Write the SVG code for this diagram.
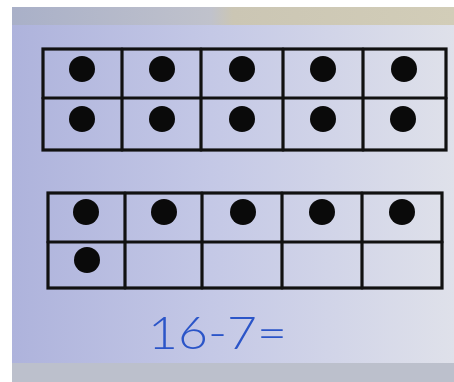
<svg xmlns="http://www.w3.org/2000/svg" width="454" height="382" viewBox="0 0 454 382">
<defs>
<linearGradient id="paper" x1="0" y1="0" x2="1" y2="0">
<stop offset="0" stop-color="#aeb3dc"/>
<stop offset="0.45" stop-color="#c4c8e6"/>
<stop offset="1" stop-color="#dfe1ea"/>
</linearGradient>
<linearGradient id="band" x1="0" y1="0" x2="1" y2="0">
<stop offset="0" stop-color="#a9b0c8"/>
<stop offset="0.45" stop-color="#c0c2cc"/>
<stop offset="0.5" stop-color="#cbc6b4"/>
<stop offset="1" stop-color="#d2cdb8"/>
</linearGradient>
<style>
.grid{fill:none;stroke:#111;stroke-width:3.2;stroke-linecap:round}
.dot{fill:#0a0a0a}
.eq{font-family:Lato,"Open Sans",sans-serif;font-size:46px;fill:#2b55c8;font-weight:300}
</style>
</defs>
<rect x="0" y="0" width="454" height="382" fill="#ffffff"/>
<rect x="12" y="7" width="442" height="375" fill="url(#band)"/>
<rect x="12" y="25" width="442" height="338" fill="url(#paper)"/>
<rect x="12" y="363" width="442" height="19" fill="#bcc0cc"/>
<g id="frame-top">
<rect class="grid" x="43" y="49" width="403" height="101"/>
<line class="grid" x1="43" y1="98" x2="446" y2="98"/>
<line class="grid" x1="122" y1="49" x2="122" y2="150"/>
<line class="grid" x1="201" y1="49" x2="201" y2="150"/>
<line class="grid" x1="283" y1="49" x2="283" y2="150"/>
<line class="grid" x1="363" y1="49" x2="363" y2="150"/>
<circle class="dot" cx="82" cy="69" r="13"/>
<circle class="dot" cx="162" cy="69" r="13"/>
<circle class="dot" cx="242" cy="69" r="13"/>
<circle class="dot" cx="323" cy="69" r="13"/>
<circle class="dot" cx="404" cy="69" r="13"/>
<circle class="dot" cx="82" cy="119" r="13"/>
<circle class="dot" cx="162" cy="119" r="13"/>
<circle class="dot" cx="242" cy="119" r="13"/>
<circle class="dot" cx="323" cy="119" r="13"/>
<circle class="dot" cx="403" cy="119" r="13"/>
</g>
<g id="frame-bottom">
<rect class="grid" x="48" y="193" width="394" height="95"/>
<line class="grid" x1="48" y1="242" x2="442" y2="242"/>
<line class="grid" x1="125" y1="193" x2="125" y2="288"/>
<line class="grid" x1="202" y1="193" x2="202" y2="288"/>
<line class="grid" x1="282" y1="193" x2="282" y2="288"/>
<line class="grid" x1="362" y1="193" x2="362" y2="288"/>
<circle class="dot" cx="86" cy="212" r="13"/>
<circle class="dot" cx="164" cy="212" r="13"/>
<circle class="dot" cx="243" cy="212" r="13"/>
<circle class="dot" cx="322" cy="212" r="13"/>
<circle class="dot" cx="402" cy="212" r="13"/>
<circle class="dot" cx="87" cy="260" r="13"/>
</g>
<g id="equation">
<text class="eq" x="148" y="349" textLength="139" lengthAdjust="spacingAndGlyphs">16-7=</text>
</g>
</svg>
